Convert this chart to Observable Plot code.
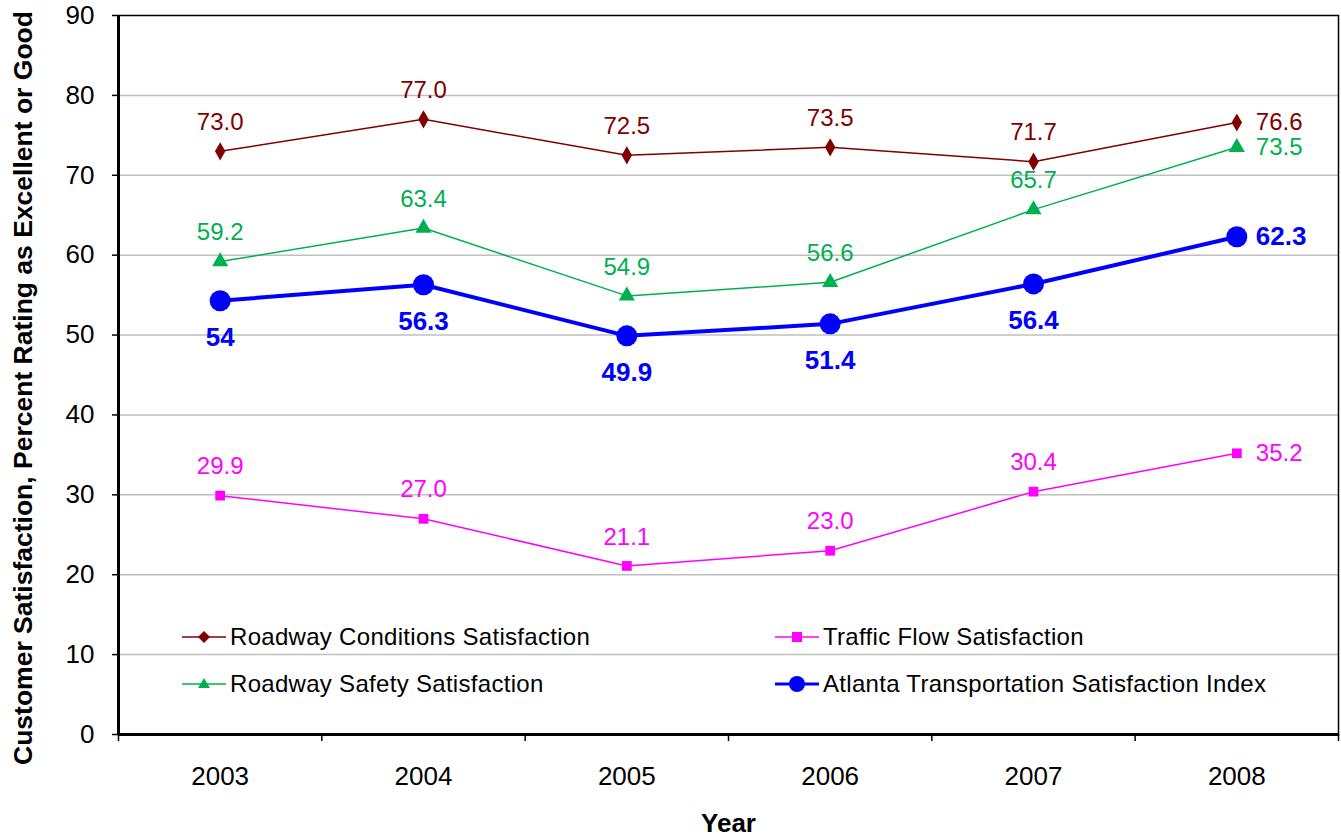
<!DOCTYPE html>
<html>
<head>
<meta charset="utf-8">
<script src="https://cdn.jsdelivr.net/npm/d3@7"></script>
<script src="https://cdn.jsdelivr.net/npm/@observablehq/plot@0.6"></script>
<style>
  html, body { margin: 0; padding: 0; background: #fff; }
  #wrap { position: relative; width: 1341px; height: 838px; font-family: "Liberation Sans", Arial, sans-serif; }
  .leg { position: absolute; display: flex; align-items: center; font-size: 24px; letter-spacing: 0.3px; color: #000; white-space: nowrap; }
  .leg svg { margin-right: 4px; }
</style>
</head>
<body>
<div id="wrap"></div>
<script>
const years = [2003, 2004, 2005, 2006, 2007, 2008];
const roadwayConditions = [73.0, 77.0, 72.5, 73.5, 71.7, 76.6];
const trafficFlow = [29.9, 27.0, 21.1, 23.0, 30.4, 35.2];
const roadwaySafety = [59.2, 63.4, 54.9, 56.6, 65.7, 73.5];
const satisfactionIndex = [54.3, 56.3, 49.9, 51.4, 56.4, 62.3];
const satisfactionIndexLabels = ["54", "56.3", "49.9", "51.4", "56.4", "62.3"];
const yTicks = [0, 10, 20, 30, 40, 50, 60, 70, 80, 90];

const seriesInfo = [
  {name: "Roadway Conditions Satisfaction", values: roadwayConditions, color: "#800000", symbol: "diamond", r: 5.5, sw: 1.5, labels: roadwayConditions.map(v => v.toFixed(1)), below: false, bold: false},
  {name: "Traffic Flow Satisfaction", values: trafficFlow, color: "#FF00FF", symbol: "square", r: 5.5, sw: 1.5, labels: trafficFlow.map(v => v.toFixed(1)), below: false, bold: false},
  {name: "Roadway Safety Satisfaction", values: roadwaySafety, color: "#00B050", symbol: "triangle", r: 6, sw: 1.5, labels: roadwaySafety.map(v => v.toFixed(1)), below: false, bold: false},
  {name: "Atlanta Transportation Satisfaction Index", values: satisfactionIndex, color: "#0000FF", symbol: "circle", r: 10.5, sw: 4, labels: satisfactionIndexLabels, below: true, bold: true}
];

const idx = d3.range(years.length);
const boundaries = d3.range(years.length + 1).map(i => i - 0.5);
const font = "Liberation Sans, Arial, sans-serif";

const marks = [
  Plot.gridY(yTicks.filter(d => d > 0 && d < 90), {stroke: "#bfbfbf", strokeOpacity: 1, strokeWidth: 1.5}),
  Plot.frame({stroke: "#000", strokeWidth: 1.5}),
  Plot.ruleX([-0.5], {stroke: "#000", strokeWidth: 3}),
  Plot.ruleY([0], {stroke: "#000", strokeWidth: 3}),
  Plot.axisY(yTicks, {tickSize: 6, tickPadding: 18, fontSize: 26, label: null, strokeWidth: 1.5}),
  Plot.axisX(boundaries, {tickSize: 7, tickFormat: () => "", label: null, strokeWidth: 1.5}),
  Plot.axisX(idx, {tickSize: 0, tickPadding: 32, tickFormat: i => String(years[i]), fontSize: 26, label: null}),
  Plot.text(["Customer Satisfaction, Percent Rating as Excellent or Good"], {frameAnchor: "left", textAnchor: "middle", rotate: -90, dx: -95, dy: 13, fontSize: 26.5, fontWeight: "bold", fill: "#000"}),
  Plot.text(["Year"], {frameAnchor: "bottom", textAnchor: "middle", dy: 89, fontSize: 26, fontWeight: "bold", fill: "#000", lineAnchor: "middle"})
];

for (const s of seriesInfo) {
  const data = idx.map(i => ({x: i, y: s.values[i], label: s.labels[i]}));
  marks.push(Plot.line(data, {x: "x", y: "y", stroke: s.color, strokeWidth: s.sw}));
  marks.push(Plot.dot(data, {x: "x", y: "y", symbol: s.symbol, r: s.r, fill: s.color, stroke: "none"}));
  const inner = data.slice(0, -1);
  const last = data.slice(-1);
  marks.push(Plot.text(inner, {x: "x", y: "y", text: "label", dy: s.below ? 37 : -29, fill: s.color, fontSize: s.bold ? 26 : 24, fontWeight: s.bold ? "bold" : "normal"}));
  marks.push(Plot.text(last, {x: "x", y: "y", text: "label", dx: 19, textAnchor: "start", fill: s.color, fontSize: s.bold ? 26 : 24, fontWeight: s.bold ? "bold" : "normal"}));
}

const chart = Plot.plot({
  width: 1341,
  height: 838,
  marginLeft: 118,
  marginRight: 3,
  marginTop: 15,
  marginBottom: 104,
  style: {fontFamily: font, color: "#000", background: "#fff", overflow: "visible"},
  x: {type: "linear", domain: [-0.5, years.length - 0.5]},
  y: {domain: [0, 90]},
  marks
});

const wrap = document.getElementById("wrap");
wrap.appendChild(chart);

// Legend inside plot area
const legendPos = [
  {left: 182, top: 637},
  {left: 775, top: 637},
  {left: 182, top: 684},
  {left: 775, top: 684}
];
const symbolSvg = (s) => {
  const c = s.color;
  let shape = "";
  if (s.symbol === "diamond") shape = `<path d="M22,5 L28,11 L22,17 L16,11 Z" fill="${c}"/>`;
  else if (s.symbol === "square") shape = `<rect x="17" y="6" width="10" height="10" fill="${c}"/>`;
  else if (s.symbol === "triangle") shape = `<path d="M22,5 L28,15 L16,15 Z" fill="${c}"/>`;
  else shape = `<circle cx="22" cy="11" r="8" fill="${c}"/>`;
  return `<svg width="44" height="22" viewBox="0 0 44 22"><line x1="0" x2="44" y1="11" y2="11" stroke="${c}" stroke-width="${s.sw === 4 ? 3 : 1.5}"/>${shape}</svg>`;
};
seriesInfo.forEach((s, i) => {
  const d = document.createElement("div");
  d.className = "leg";
  d.style.left = legendPos[i].left + "px";
  d.style.top = (legendPos[i].top - 14) + "px";
  d.style.height = "28px";
  d.innerHTML = symbolSvg(s) + `<span>${s.name}</span>`;
  wrap.appendChild(d);
});
</script>
</body>
</html>
